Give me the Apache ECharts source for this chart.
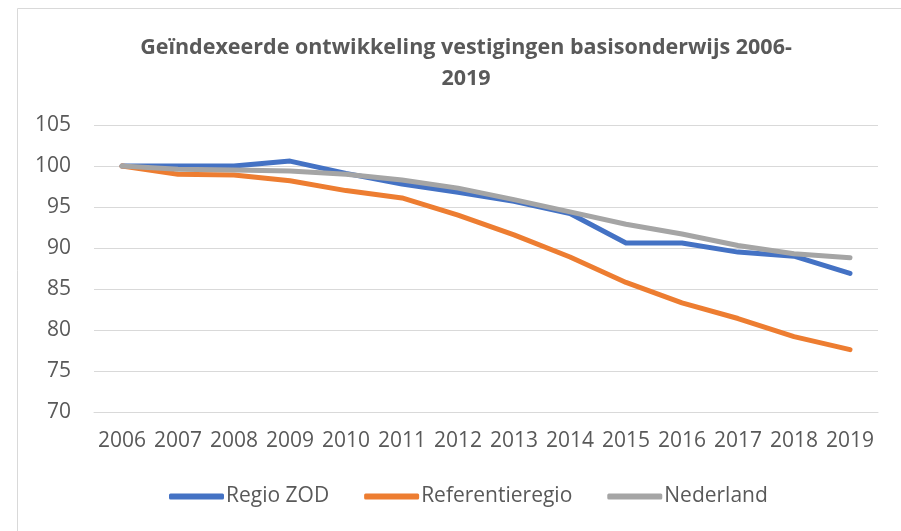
<!DOCTYPE html>
<html>
<head>
<meta charset="utf-8">
<script src="https://cdn.jsdelivr.net/npm/echarts@6/dist/echarts.min.js"></script>
<style>
  html, body { margin: 0; padding: 0; background: #fff; }
  #myChartDiv1 { width: 901px; height: 531px; }
</style>
</head>
<body>
<div id="myChartDiv1"></div>
<script>
var jaren = ['2006', '2007', '2008', '2009', '2010', '2011', '2012', '2013', '2014', '2015', '2016', '2017', '2018', '2019'];
var regioZOD = [100, 100, 100, 100.6, 99.1, 97.8, 96.8, 95.7, 94.2, 90.6, 90.6, 89.5, 89.0, 86.9];
var referentieregio = [100, 99.0, 98.9, 98.2, 97.0, 96.1, 94.0, 91.6, 88.9, 85.8, 83.3, 81.4, 79.2, 77.6];
var nederland = [100, 99.6, 99.5, 99.4, 99.0, 98.3, 97.3, 95.9, 94.4, 92.9, 91.7, 90.3, 89.3, 88.8];

var tekstKleur = '#595959';
var rasterKleur = '#d9d9d9';

var myChart = echarts.init(document.getElementById('myChartDiv1'));

function lijn(naam, data, kleur) {
  return {
    name: naam,
    type: 'line',
    data: data,
    symbol: 'none',
    smooth: false,
    lineStyle: { color: kleur, width: 5, cap: 'round', join: 'round' },
    itemStyle: { color: kleur }
  };
}

var option = {
  animation: false,
  textStyle: { fontFamily: 'Open Sans', color: tekstKleur },
  graphic: [{
    type: 'rect',
    shape: { x: 17.5, y: 8.5, width: 1000, height: 1000 },
    style: { fill: 'none', stroke: rasterKleur, lineWidth: 1 },
    silent: true
  }],
  title: {
    text: 'Geïndexeerde ontwikkeling vestigingen basisonderwijs 2006-\n2019',
    left: 461,
    textAlign: 'center',
    top: 27,
    textStyle: {
      fontFamily: 'Open Sans',
      fontWeight: 'bold',
      fontSize: 21.5,
      lineHeight: 31,
      color: tekstKleur
    }
  },
  legend: {
    data: ['Regio ZOD', 'Referentieregio', 'Nederland'],
    left: 164,
    top: 481,
    icon: 'roundRect',
    itemWidth: 55,
    itemHeight: 6,
    itemGap: 35,
    textStyle: { fontFamily: 'Open Sans', fontSize: 21, color: tekstKleur, padding: [0, 0, 0, -3] }
  },
  grid: {
    left: 94,
    right: 23,
    top: 125,
    bottom: 119,
    containLabel: false
  },
  xAxis: {
    type: 'category',
    data: jaren,
    boundaryGap: true,
    axisTick: { show: false },
    axisLine: { lineStyle: { color: rasterKleur, width: 1 } },
    axisLabel: { interval: 0, margin: 19, fontSize: 21, color: tekstKleur, fontFamily: 'Open Sans' }
  },
  yAxis: {
    type: 'value',
    min: 70,
    max: 105,
    interval: 5,
    axisTick: { show: false },
    axisLine: { show: false },
    splitLine: { lineStyle: { color: rasterKleur, width: 1 } },
    axisLabel: { margin: 23, fontSize: 21, color: tekstKleur, fontFamily: 'Open Sans' }
  },
  series: [
    lijn('Regio ZOD', regioZOD, '#4472c4'),
    lijn('Referentieregio', referentieregio, '#ed7d31'),
    lijn('Nederland', nederland, '#a5a5a5')
  ]
};

myChart.setOption(option);
</script>
</body>
</html>
